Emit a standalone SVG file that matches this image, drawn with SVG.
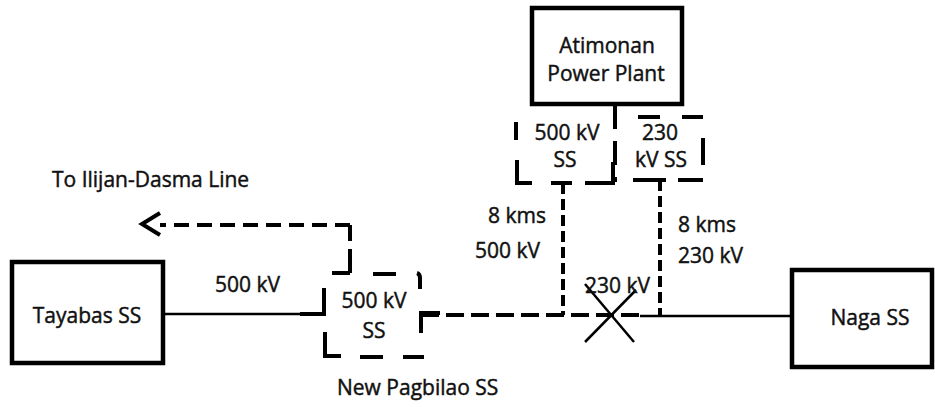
<svg xmlns="http://www.w3.org/2000/svg" width="935" height="407" viewBox="0 0 935 407">
<style>
  text { font-family: "Open Sans", "Noto Sans", sans-serif; font-size: 21px; fill: #111; stroke: #111; stroke-width: 0.45; }
  .c { text-anchor: middle; }
  .box { fill: #fff; stroke: #000; stroke-width: 4.5; }
  .seg { fill: none; stroke: #000; stroke-width: 4; stroke-linecap: butt; stroke-linejoin: miter; }
  .dash { fill: none; stroke: #000; stroke-width: 4; }
  .line { fill: none; stroke: #000; stroke-width: 2.5; }
</style>
<rect width="935" height="407" fill="#fff"/>

<g id="connectors">
  <line class="line" x1="163" y1="314" x2="325" y2="314"/>
  <path class="dash" d="M350,273 V225" stroke-dasharray="24 8"/>
  <path class="dash" d="M350,225 H160" stroke-dasharray="15 8"/>
  <path class="seg" d="M160,213 L142,224 L160,235"/>
  <path class="dash" d="M421,315 H640" stroke-dasharray="18 7"/>
  <path class="dash" d="M563,183 V315" stroke-dasharray="11 5"/>
  <path class="dash" d="M660,180 V315" stroke-dasharray="11 5"/>
  <line class="line" x1="640" y1="316" x2="792" y2="316"/>
  <line class="line" x1="585" y1="284" x2="634" y2="342" stroke-width="3"/>
  <line class="line" x1="585" y1="342" x2="636" y2="290" stroke-width="3"/>
  <path class="dash" d="M615,105 V182" stroke-dasharray="24 12"/>
</g>

<g id="atimonan">
  <rect class="box" x="532" y="8" width="150" height="96"/>
  <text class="c" x="607" y="53">Atimonan</text>
  <text class="c" x="606" y="81">Power Plant</text>
</g>

<g id="ss500">
  <path class="seg" d="M516,122 V140"/>
  <path class="seg" d="M517,160 V183 H532"/>
  <path class="seg" d="M551,183 H572"/>
  <path class="seg" d="M585,183 H613 V162"/>
  <text class="c" x="567" y="140">500 kV</text>
  <text class="c" x="565" y="167">SS</text>
</g>

<g id="ss230">
  <path class="seg" d="M638,117 H660"/>
  <path class="seg" d="M682,117 H703"/>
  <path class="seg" d="M703,138 V165"/>
  <path class="seg" d="M633,180 H666"/>
  <path class="seg" d="M678,180 H703"/>
  <text class="c" x="660" y="140">230</text>
  <text class="c" x="661" y="167">kV SS</text>
</g>

<g id="pagbilao">
  <path class="seg" d="M332,273 H350"/>
  <path class="seg" d="M373,274 H396"/>
  <path class="seg" d="M417,273 Q420,274 420,278 V289"/>
  <path class="seg" d="M324,288 V314 H300"/>
  <path class="seg" d="M325,332 V356 H341"/>
  <path class="seg" d="M360,357 H383"/>
  <path class="seg" d="M403,357 H424"/>
  <path class="seg" d="M421,333 V313 H440"/>
  <text class="c" x="374" y="308">500 kV</text>
  <text class="c" x="374" y="338">SS</text>
</g>

<g id="tayabas">
  <rect class="box" x="12" y="262" width="151" height="101"/>
  <text class="c" x="87" y="323">Tayabas SS</text>
</g>

<g id="naga">
  <rect class="box" x="792" y="270" width="140" height="97"/>
  <text class="c" x="870" y="325">Naga SS</text>
</g>

<g id="labels">
  <text x="52" y="187">To Ilijan-Dasma Line</text>
  <text x="215" y="292">500 kV</text>
  <text x="337" y="395">New Pagbilao SS</text>
  <text x="488" y="223">8 kms</text>
  <text x="475" y="258">500 kV</text>
  <text x="678" y="232">8 kms</text>
  <text x="678" y="263">230 kV</text>
  <text x="585" y="293">230 kV</text>
</g>
</svg>
